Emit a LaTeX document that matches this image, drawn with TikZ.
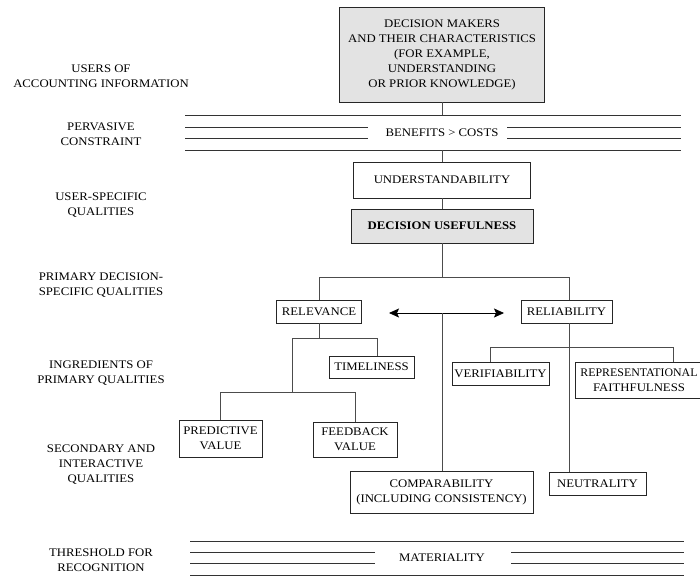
\documentclass[tikz,border=0pt]{standalone}
\usepackage{fontspec}
\setmainfont{Liberation Serif}[FakeStretch=1.1]
\usetikzlibrary{arrows.meta}
\begin{document}
\begin{tikzpicture}[x=1pt,y=-1pt,
  every node/.style={font=\fontsize{11.6}{15}\selectfont},
  box/.style={draw=black!85, line width=0.9pt, align=center, inner sep=0pt},
  shaded/.style={box, fill=black!11},
  conn/.style={draw=black!70, line width=0.8pt},
  band/.style={draw=black!80, line width=0.8pt},
  lab/.style={align=center},
  tip/.style={{Stealth[length=10pt,width=9pt,inset=2pt]}-{Stealth[length=10pt,width=9pt,inset=2pt]}}]
\useasboundingbox (0,0) rectangle (700,576);
\clip (0,0) rectangle (700,576);

% left column labels
\node[lab] (l1) at (101,76.5) {USERS OF\\ACCOUNTING INFORMATION};
\node[lab] (l2) at (101,134.5) {PERVASIVE\\CONSTRAINT};
\node[lab] (l3) at (101,205) {USER-SPECIFIC\\QUALITIES};
\node[lab] (l4) at (101,285) {PRIMARY DECISION-\\SPECIFIC QUALITIES};
\node[lab] (l5) at (101,373.5) {INGREDIENTS OF\\PRIMARY QUALITIES};
\node[lab] (l6) at (101,464.5) {SECONDARY AND\\INTERACTIVE\\QUALITIES};
\node[lab] (l7) at (101,560.5) {THRESHOLD FOR\\RECOGNITION};

% boxes
\node[shaded, minimum width=205pt, minimum height=95pt] (dm) at (442,54.5)
  {DECISION MAKERS\\AND THEIR CHARACTERISTICS\\(FOR EXAMPLE,\\UNDERSTANDING\\OR PRIOR KNOWLEDGE)};
\node[box, minimum width=177pt, minimum height=36pt] (und) at (442,180) {UNDERSTANDABILITY};
\node[shaded, minimum width=182pt, minimum height=34pt] (du) at (442,226) {\bfseries DECISION USEFULNESS};
\node[box, minimum width=85pt, minimum height=23pt] (rel) at (319,311.5) {RELEVANCE};
\node[box, minimum width=91pt, minimum height=23pt] (rely) at (566.5,311.5) {RELIABILITY};
\node[box, minimum width=85pt, minimum height=22pt] (tim) at (371.5,367) {TIMELINESS};
\node[box, minimum width=97pt, minimum height=23pt] (ver) at (500.5,373.5) {VERIFIABILITY};
\node[box, minimum width=128pt, minimum height=36pt] (rep) at (639,380)
  {\scalebox{0.93}[1]{REPRESENTATIONAL}\\FAITHFULNESS};
\node[box, minimum width=83pt, minimum height=37pt] (pred) at (220.5,438.5) {PREDICTIVE\\VALUE};
\node[box, minimum width=84pt, minimum height=35pt] (feed) at (355,439.5) {FEEDBACK\\VALUE};
\node[box, minimum width=183pt, minimum height=42pt] (comp) at (441.5,492) {COMPARABILITY\\(INCLUDING CONSISTENCY)};
\node[box, minimum width=97pt, minimum height=23pt] (neu) at (597.5,483.5) {NEUTRALITY};

% pervasive constraint band
\node (bc) at (442,133) {BENEFITS > COSTS};
\draw[band] (185,115) -- (681,115);
\draw[band] (185,127) -- (368,127) (507,127) -- (681,127);
\draw[band] (185,138) -- (368,138) (507,138) -- (681,138);
\draw[band] (185,150) -- (681,150);

% threshold band
\node (mat) at (442,558) {MATERIALITY};
\draw[band] (190,541) -- (684,541);
\draw[band] (190,552) -- (375,552) (511,552) -- (684,552);
\draw[band] (190,563) -- (375,563) (511,563) -- (684,563);
\draw[band] (190,575) -- (684,575);

% connectors
\coordinate (b1) at (442,115);
\coordinate (b4) at (442,150);
\draw[conn] (dm.south) -- (b1);
\draw[conn] (b4) -- (und.north);
\draw[conn] (und.south) -- (du.north);

\coordinate (j1) at (442,277);
\coordinate (jl) at (319,277);
\coordinate (jr) at (569,277);
\draw[conn] (du.south) -- (j1);
\draw[conn] (rel.north) -- (jl) -- (jr) -- (jr |- rely.north);

\coordinate (al) at (389,313);
\coordinate (ar) at (504,313);
\coordinate (ac) at (442,313);
\draw[conn, draw=black, fill=black, tip] (al) -- (ar);
\draw[conn] (ac) -- (comp.north -| ac);

% relevance subtree
\coordinate (r1) at (319,338);
\coordinate (r1l) at (292,338);
\coordinate (r1r) at (377,338);
\draw[conn] (rel.south) -- (r1);
\draw[conn] (r1l) -- (r1r) -- (r1r |- tim.north);
\coordinate (r2) at (292,392);
\coordinate (r2l) at (220.5,392);
\coordinate (r2r) at (355,392);
\draw[conn] (r1l) -- (r2);
\draw[conn] (pred.north) -- (r2l) -- (r2r) -- (feed.north);

% reliability subtree
\coordinate (q1l) at (490,347);
\coordinate (q1r) at (673,347);
\draw[conn] (jr |- rely.south) -- (jr |- neu.north);
\draw[conn] (q1l |- ver.north) -- (q1l) -- (q1r) -- (q1r |- rep.north);
\end{tikzpicture}
\end{document}
